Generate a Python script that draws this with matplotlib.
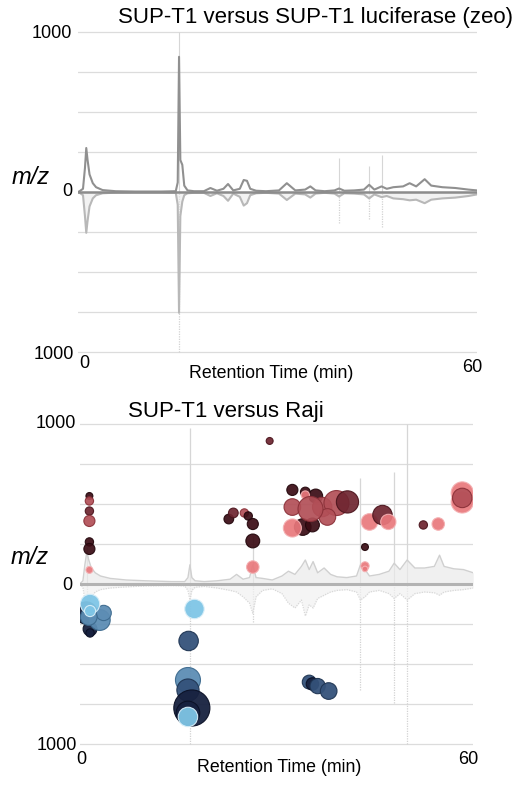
import matplotlib
matplotlib.use("Agg")
import matplotlib.pyplot as plt

plt.rcParams['font.family'] = ['Liberation Sans', 'DejaVu Sans']

# ---------------- data: top panel (SUP-T1 vs SUP-T1 luciferase) ----------------
top_time = [-0.7, 0.0, 0.3, 0.5, 0.7, 1.0, 1.5, 2.0, 3.0, 5.0,
            8.0, 12.0, 14.2, 14.5, 14.7, 14.9, 15.2, 15.5, 16.0, 17.0,
            18.5, 19.5, 20.5, 21.5, 22.2, 23.0, 24.0, 24.6, 25.1, 25.6,
            26.5, 28.0, 30.0, 31.2, 32.5, 34.0, 34.8, 35.6, 37.0, 38.5,
            39.2, 40.0, 41.5, 43.0, 43.8, 44.6, 45.7, 46.5, 47.5, 49.0,
            50.0, 51.0, 52.3, 53.3, 55.0, 57.0, 59.0, 60.3]
top_upper = [0, 20, 150, 275, 200, 110, 55, 30, 12, 5,
             3, 3, 5, 60, 845, 200, 170, 40, 10, 5,
             5, 25, 8, 20, 50, 10, 20, 75, 70, 20,
             8, 5, 10, 55, 10, 15, 35, 10, 5, 10,
             22, 8, 10, 15, 45, 15, 35, 20, 30, 35,
             55, 35, 80, 40, 30, 25, 15, 10]
top_lower = [0, -20, -150, -255, -180, -90, -40, -20, -8, -4,
             -3, -3, -5, -80, -755, -150, -60, -20, -8, -5,
             -5, -25, -8, -25, -55, -10, -30, -85, -70, -20,
             -8, -5, -10, -50, -10, -15, -35, -10, -5, -10,
             -28, -8, -10, -15, -40, -15, -32, -25, -40, -45,
             -52, -48, -70, -48, -40, -35, -25, -15]
top_spike_time = [14.7, 39.2, 43.8, 45.7]
top_spike_up = [1000, 210, 160, 230]
top_spike_down = [-1000, -195, -170, -220]

# ---------------- data: bottom panel (SUP-T1 vs Raji) ----------------
bot_time = [-0.2, 0.3, 0.6, 0.9, 1.2, 1.6, 2.2, 3.0, 4.5, 7.0,
            10.0, 14.0, 16.0, 16.5, 16.8, 17.1, 17.6, 19.0, 21.0, 23.0,
            24.0, 25.0, 26.0, 26.5, 27.0, 28.0, 29.5, 31.0, 32.0, 33.0,
            34.0, 34.6, 35.2, 35.8, 36.5, 37.5, 38.5, 39.5, 41.0, 42.5,
            43.1, 43.8, 44.5, 46.0, 47.5, 48.3, 49.2, 50.3, 51.5, 53.0,
            54.5, 55.3, 56.0, 57.5, 59.0, 60.5]
bot_upper = [0, 20, 120, 200, 150, 100, 70, 50, 35, 25,
             20, 15, 15, 40, 120, 40, 20, 15, 20, 30,
             60, 30, 40, 120, 40, 35, 25, 50, 80, 60,
             110, 150, 90, 140, 70, 100, 60, 45, 40, 50,
             120, 90, 50, 60, 80, 130, 90, 150, 100, 100,
             110, 180, 110, 95, 90, 70]
bot_lower = [0, -20, -100, -150, -120, -80, -50, -35, -25, -18,
             -12, -10, -12, -40, -100, -40, -20, -15, -25, -40,
             -50, -80, -120, -183, -80, -40, -30, -60, -120, -150,
             -100, -200, -130, -150, -90, -70, -50, -40, -35, -50,
             -100, -80, -50, -40, -60, -90, -60, -100, -60, -50,
             -55, -70, -50, -40, -35, -25]
bot_spike_time = [0.9, 16.8, 26.5, 43.1, 48.3, 50.3]
bot_spike_up = [230, 975, 300, 660, 700, 1000]
bot_spike_down = [-300, -1000, -240, -660, -745, -1000]

# features enriched in SUP-T1 (red, above) : time, m/z, abundance, group
red_time = [1.3, 1.3, 1.3, 1.3, 1.3, 1.3, 1.3, 29.1, 22.8, 23.5,
            25.2, 25.8, 26.5, 26.5, 26.5, 32.6, 34.6, 36.2, 34.6, 32.6,
            37.2, 39.4, 41.1, 38.0, 34.2, 35.7, 32.6, 35.4, 44.5, 46.5,
            47.4, 43.8, 43.8, 43.8, 52.8, 55.1, 58.8, 58.8, 58.8]
red_mz = [550, 519, 456, 394, 263, 219, 88, 894, 406, 444,
          444, 425, 375, 269, 106, 588, 575, 550, 556, 481,
          481, 506, 513, 419, 356, 369, 350, 469, 388, 431,
          388, 231, 113, 94, 369, 375, 569, 513, 538]
red_abund = [2.5, 3, 3, 4, 3, 4, 2.5, 2.5, 3.5, 3.5,
             3, 3, 4, 5, 4.5, 4, 3.5, 5, 3, 6,
             7, 9, 8, 6, 6, 5, 6.5, 9, 6, 7,
             5.5, 2.5, 3, 2, 3, 4.5, 8, 8, 7]
red_group = [0, 2, 1, 2, 0, 0, 3, 1, 0, 1,
             2, 0, 0, 0, 3, 0, 0, 0, 3, 2,
             2, 2, 1, 2, 0, 0, 3, 2, 3, 1,
             3, 0, 3, 3, 1, 3, 3, 3, 2]

# features enriched in Raji (blue, below)
blue_time = [0.8, 1.4, 1.4, 2.9, 3.5, 1.2, 1.4, 1.4, 17.5, 16.6,
             16.5, 16.5, 17.1, 16.5, 16.5, 35.2, 35.7, 36.5, 38.2]
blue_mz = [-181, -281, -306, -225, -181, -206, -125, -169, -156, -356,
           -600, -663, -775, -806, -831, -613, -625, -638, -669]
blue_abund = [8, 5, 3, 7.5, 5.5, 6, 7, 4, 7, 7,
              9, 8, 13, 8.5, 7, 5, 4.5, 5.5, 6]
blue_group = [0, 0, 0, 2, 2, 2, 3, 3, 3, 1,
              2, 1, 0, 0, 3, 1, 0, 1, 1]

red_fill = ['#3a0c14', '#6e2530', '#b24f57', '#e9787c']
red_edge = ['#22060b', '#4a141c', '#8a3038', '#f4b0b2']
blue_fill = ['#17213f', '#34527a', '#5d8db4', '#7fc5e6']
blue_edge = ['#0b1126', '#1f3553', '#3d6a8e', '#d8eef8']

W, H = 527, 787
fig = plt.figure(figsize=(W / 100, H / 100), dpi=100)


def add_ax(left, right, y1000, yneg1000, xlim):
    pad = (yneg1000 - y1000) * 0.02
    top = y1000 - pad
    bottom = yneg1000 + pad
    ax = fig.add_axes([left / W, 1 - bottom / H, (right - left) / W, (bottom - top) / H])
    ax.set_xlim(*xlim)
    ax.set_ylim(-1040, 1040)
    for s in ax.spines.values():
        s.set_visible(False)
    ax.set_xticks([])
    ax.set_yticks([])
    for g in range(-1000, 1001, 250):
        ax.axhline(g, color='#dcdcdc', lw=0.9, zorder=0)
    return ax


def ftext(x, y, s, **kw):
    fig.text(x / W, 1 - y / H, s, ha='center', va='center', **kw)


TICK_FS = 13
# ---------------- top panel ----------------
ax1 = add_ax(78, 477, 32, 352, (-0.765, 60.31))
ax1.vlines(top_spike_time, 0, top_spike_up, color='#d6d6d6', lw=0.8, zorder=1)
ax1.vlines(top_spike_time, top_spike_down, 0, color='#d2d2d2', lw=0.9, linestyles=(0, (1, 1)), zorder=1)
ax1.fill_between(top_time, top_lower, 0, color='#e6e6e6', alpha=0.5, lw=0, zorder=1)
ax1.plot(top_time, top_lower, color='#b8b8b8', lw=1.5, zorder=2)
ax1.plot(top_time, top_upper, color='#909090', lw=1.5, zorder=3)
ax1.axhline(0, xmin=0, xmax=1, color='#8c8c8c', lw=1.8, zorder=3)

ftext(315, 17, 'SUP-T1 versus SUP-T1 luciferase (zeo)', fontsize=16)
ftext(52, 33, '1000', fontsize=TICK_FS)
ftext(67, 192, '0', fontsize=TICK_FS)
ftext(54, 355, '1000', fontsize=TICK_FS)
ftext(31, 177, 'm/z', fontsize=17, style='italic')
ftext(84, 363, '0', fontsize=TICK_FS)
ftext(472, 367, '60', fontsize=TICK_FS)
ftext(271, 374, 'Retention Time (min)', fontsize=12.8)

# ---------------- bottom panel ----------------
ax2 = add_ax(80, 473, 424, 744, (-0.15, 60.46))
ax2.vlines(bot_spike_time, 0, bot_spike_up, color='#d6d6d6', lw=0.9, zorder=1)
ax2.vlines(bot_spike_time, bot_spike_down, 0, color='#d2d2d2', lw=0.9, linestyles=(0, (1, 1)), zorder=1)
ax2.fill_between(bot_time, 0, bot_upper, color='#ebebeb', alpha=0.7, lw=0, zorder=1)
ax2.fill_between(bot_time, bot_lower, 0, color='#f1f1f1', alpha=0.7, lw=0, zorder=1)
ax2.plot(bot_time, bot_upper, color='#d0d0d0', lw=1.0, zorder=2)
ax2.plot(bot_time, bot_lower, color='#d8d8d8', lw=0.9, ls=(0, (1, 1)), zorder=2)
ax2.axhline(0, color='#b3b3b3', lw=2.2, zorder=2)

ax2.scatter(red_time, red_mz, s=[4.0 * r * r for r in red_abund],
            c=[red_fill[g] for g in red_group], edgecolors=[red_edge[g] for g in red_group],
            linewidths=0.8, alpha=0.92, zorder=4)
ax2.scatter(blue_time, blue_mz, s=[4.0 * r * r for r in blue_abund],
            c=[blue_fill[g] for g in blue_group], edgecolors=[blue_edge[g] for g in blue_group],
            linewidths=0.8, alpha=0.95, zorder=4)

ftext(226, 411, 'SUP-T1 versus Raji', fontsize=16)
ftext(56, 423, '1000', fontsize=TICK_FS)
ftext(67, 585, '0', fontsize=TICK_FS)
ftext(57, 745, '1000', fontsize=TICK_FS)
ftext(30, 558, 'm/z', fontsize=17, style='italic')
ftext(81, 759, '0', fontsize=TICK_FS)
ftext(468, 759, '60', fontsize=TICK_FS)
ftext(279, 767, 'Retention Time (min)', fontsize=12.8)

fig.savefig('out.png', dpi=100)
